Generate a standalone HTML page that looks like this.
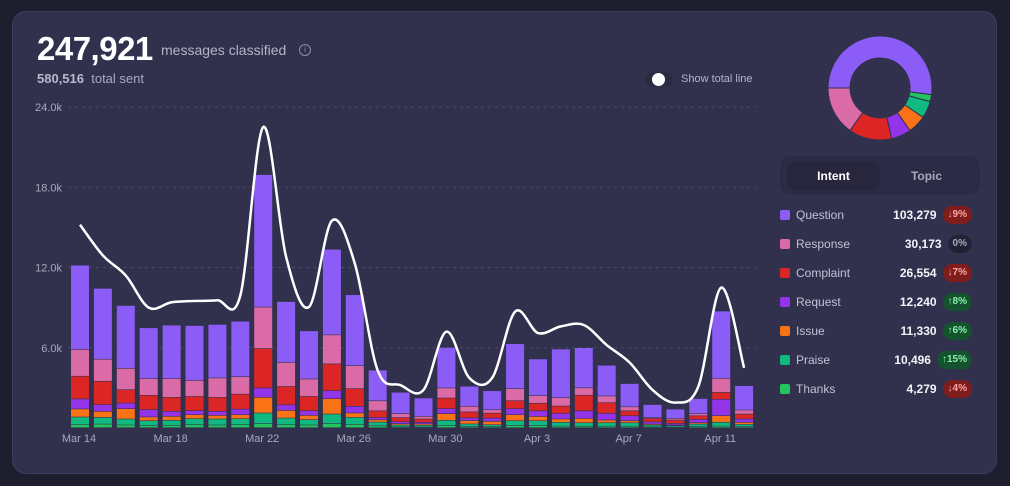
<!DOCTYPE html>
<html><head><meta charset="utf-8">
<style>
*{box-sizing:border-box;margin:0;padding:0}
body{width:1010px;height:486px;background:#1e1e2f;font-family:"Liberation Sans",sans-serif;position:relative;overflow:hidden}
.card{position:absolute;left:12px;top:11px;width:985px;height:463px;background:#32314d;border-radius:14px;border:1px solid #3e3d5c}
.abs{position:absolute}
.big{left:37px;top:30px;font-size:33px;font-weight:bold;color:#fff;letter-spacing:-0.5px}
.sub{left:161px;top:42px;font-size:14px;color:#b5b4c8}
.info{left:299px;top:44px;width:12px;height:12px;border:1px solid #8e8da6;border-radius:50%;font-size:8px;color:#8e8da6;text-align:center;line-height:10px}
.total{left:37px;top:71px;font-size:13px;color:#a9a8bd}
.total b{color:#b9b8cc}
.toggle{left:645px;top:72px;width:28px;height:15px;border-radius:8px;background:#2a2a40}
.knob{left:652px;top:73px;width:13px;height:13px;border-radius:50%;background:#fff}
.tl{left:681px;top:73px;font-size:11px;color:#b5b4c8}
.tabs{left:780px;top:156px;width:200px;height:39px;background:#2c2b45;border-radius:12px}
.pill{left:787px;top:162px;width:93px;height:28px;background:#27263d;border-radius:9px;color:#fff;font-size:12px;font-weight:bold;text-align:center;line-height:28px}
.topic{left:880px;top:162px;width:93px;height:28px;color:#a9a8bd;font-size:12px;font-weight:bold;text-align:center;line-height:28px}
.row{position:absolute;left:780px;width:192px;height:18px;display:flex;align-items:center}
.sq{width:10px;height:10px;border-radius:2px;margin-right:6px}
.lab{flex:1;font-size:12px;color:#c2c1d4}
.val{font-size:12px;font-weight:bold;color:#f4f4f8;margin-right:6px}
.bd{height:18px;border-radius:9px;font-size:10px;font-weight:bold;line-height:18px;padding:0 5px;text-align:center}
.dn{background:#7f1d1d;color:#fca5a5}.up{background:#14532d;color:#86efac}.nu{background:#222236;color:#a9a8bd}
</style></head><body>
<div class="card"></div>
<div class="abs big">247,921</div>
<div class="abs sub">messages classified</div>
<div class="abs info">i</div>
<div class="abs total"><b>580,516</b>&nbsp; total sent</div>
<div class="abs toggle"></div>
<div class="abs knob"></div>
<div class="abs tl">Show total line</div>
<svg id="chart" class="abs" style="left:0;top:0" width="1010" height="486"></svg>
<div class="abs tabs"></div>
<div class="abs pill">Intent</div>
<div class="abs topic">Topic</div>
<div id="legend"></div>
<script>
const dates=["Mar 14","Mar 15","Mar 16","Mar 17","Mar 18","Mar 19","Mar 20","Mar 21","Mar 22","Mar 23","Mar 24","Mar 25","Mar 26","Mar 27","Mar 28","Mar 29","Mar 30","Mar 31","Apr 1","Apr 2","Apr 3","Apr 4","Apr 5","Apr 6","Apr 7","Apr 8","Apr 9","Apr 10","Apr 11","Apr 12"];
const tickDates=["Mar 14","Mar 18","Mar 22","Mar 26","Mar 30","Apr 3","Apr 7","Apr 11"];
const yTicks=[0,6,12,18,24];
const question=[6.3,5.3,4.7,3.8,4.0,4.1,4.0,4.15,9.9,4.55,3.6,6.4,5.3,2.3,1.6,1.37,3.03,1.5,1.42,3.36,2.74,3.64,3.0,2.3,1.74,0.97,0.7,1.12,5.03,1.82];
const response=[2.0,1.65,1.6,1.25,1.4,1.2,1.45,1.3,3.1,1.8,1.3,2.17,1.72,0.75,0.3,0.2,0.75,0.42,0.25,0.9,0.57,0.62,0.55,0.5,0.3,0.07,0.12,0.17,1.05,0.3];
const complaint=[1.7,1.75,1.0,1.07,1.05,1.07,1.05,1.12,2.95,1.37,1.07,2.0,1.32,0.5,0.3,0.25,0.8,0.45,0.37,0.6,0.57,0.55,1.17,0.8,0.37,0.25,0.25,0.27,0.52,0.37];
const request=[0.75,0.5,0.42,0.55,0.37,0.3,0.3,0.42,0.7,0.42,0.35,0.6,0.5,0.17,0.15,0.12,0.37,0.2,0.25,0.45,0.42,0.42,0.57,0.5,0.37,0.17,0.12,0.25,1.22,0.25];
const issue=[0.6,0.45,0.77,0.28,0.3,0.3,0.27,0.3,1.17,0.57,0.32,1.15,0.33,0.17,0.1,0.1,0.5,0.25,0.25,0.45,0.32,0.25,0.32,0.2,0.15,0.07,0.05,0.1,0.5,0.15];
const praise=[0.55,0.5,0.45,0.35,0.37,0.45,0.45,0.45,0.8,0.5,0.4,0.7,0.52,0.28,0.14,0.13,0.38,0.19,0.15,0.36,0.36,0.28,0.26,0.26,0.26,0.14,0.1,0.18,0.28,0.17];
const thanks=[0.25,0.27,0.2,0.17,0.18,0.22,0.2,0.22,0.3,0.22,0.2,0.32,0.25,0.14,0.06,0.05,0.17,0.09,0.07,0.16,0.16,0.12,0.11,0.11,0.11,0.06,0.05,0.09,0.12,0.08];
const totalLine=[15.2,12.9,11.4,9.0,9.4,9.5,9.55,9.9,22.5,12.8,9.05,15.5,12.3,4.3,3.2,2.85,7.2,3.75,3.75,8.7,7.1,7.6,7.7,6.2,4.9,2.85,1.9,3.1,10.5,4.5];
const seriesNames=["thanks","praise","issue","request","complaint","response","question"];
const seriesVals=[thanks,praise,issue,request,complaint,response,question];
const seriesColors=["#22c55e","#10b981","#f97316","#9333ea","#dc2626","#db6ba6","#8b5cf6"];
const legendNames=["Question","Response","Complaint","Request","Issue","Praise","Thanks"];
const legendValues=[103279,30173,26554,12240,11330,10496,4279];
const legendChanges=["↓9%","0%","↓7%","↑8%","↑6%","↑15%","↓4%"];
const legendColors=["#8b5cf6","#db6ba6","#dc2626","#9333ea","#f97316","#10b981","#22c55e"];

const NS="http://www.w3.org/2000/svg";
const svg=document.getElementById('chart');
const X0=80,STEP=22.9,BW=18,Y0=428,YMAX=24,PLOT_H=321;
const xS=i=>X0+i*STEP;
const yS=v=>Y0-v/YMAX*PLOT_H;
function mk(tag,attrs){const e=document.createElementNS(NS,tag);for(const k in attrs)e.setAttribute(k,attrs[k]);svg.appendChild(e);return e;}
yTicks.forEach(t=>{
  if(t>0){const g=mk('line',{x1:68,x2:756,y1:yS(t),y2:yS(t),stroke:'#4a4968','stroke-dasharray':'3 4','stroke-width':1});
  
  
  const l=mk('text',{x:62,y:yS(t)+4,'text-anchor':'end','font-size':11,fill:'#a9a8bd','font-family':'Liberation Sans'});
  l.textContent=t.toFixed(1)+'k';
  
  }
});
dates.forEach((d,i)=>{
  let acc=0;
  seriesVals.forEach((s,k)=>{
    const v=s[i];
    const r=mk('rect',{x:xS(i)-BW/2,y:yS(acc+v),width:BW,height:Math.max(0,yS(acc)-yS(acc+v)-0.6),fill:seriesColors[k]});
    
    
    acc+=v;
  });
  if(tickDates.includes(d)){
    const t=mk('text',{x:xS(i)-1,y:442,'text-anchor':'middle','font-size':11,fill:'#a9a8bd','font-family':'Liberation Sans'});
    t.textContent=d;
    
    
  }
});
const pts=totalLine.map((v,i)=>[xS(i),yS(v)]);
let dStr='M'+pts[0][0]+','+pts[0][1];
for(let i=0;i<pts.length-1;i++){
  const p0=pts[Math.max(0,i-1)],p1=pts[i],p2=pts[i+1],p3=pts[Math.min(pts.length-1,i+2)];
  const c1=[p1[0]+(p2[0]-p0[0])/6,p1[1]+(p2[1]-p0[1])/6];
  const c2=[p2[0]-(p3[0]-p1[0])/6,p2[1]-(p3[1]-p1[1])/6];
  dStr+=' C'+c1+' '+c2+' '+p2;
}
const line=mk('path',{d:dStr,fill:'none',stroke:'#fff','stroke-width':2.5,'stroke-linejoin':'round'});


const donutOrder=[0,6,5,4,3,2,1];
const tot=legendValues.reduce((a,b)=>a+b,0);
const CX=880,CY=88,RO=52,RI=30;
let ang=Math.PI;
donutOrder.forEach(k=>{
  const a2=ang+legendValues[k]/tot*2*Math.PI;
  const p=(r,a)=>[CX+r*Math.cos(a),CY+r*Math.sin(a)];
  const large=(a2-ang)>Math.PI?1:0;
  const [x1,y1]=p(RO,ang),[x2,y2]=p(RO,a2),[x3,y3]=p(RI,a2),[x4,y4]=p(RI,ang);
  const s=mk('path',{d:`M${x1},${y1} A${RO},${RO} 0 ${large} 1 ${x2},${y2} L${x3},${y3} A${RI},${RI} 0 ${large} 0 ${x4},${y4} Z`,fill:legendColors[k],stroke:'#32314d','stroke-width':1});
  
  
  ang=a2;
});
const lg=document.getElementById('legend');
legendNames.forEach((n,i)=>{
  const r=document.createElement('div');
  r.className='row';r.style.top=(206+i*29)+'px';
  
  
  const ch=legendChanges[i];
  const cls=ch.startsWith('↓')?'dn':ch.startsWith('↑')?'up':'nu';
  r.innerHTML=`<span class="sq" style="background:${legendColors[i]}"></span><span class="lab">${n}</span><span class="val">${legendValues[i].toLocaleString('en-US')}</span><span class="bd ${cls}">${ch}</span>`;
  lg.appendChild(r);
});
</script>
</body></html>
